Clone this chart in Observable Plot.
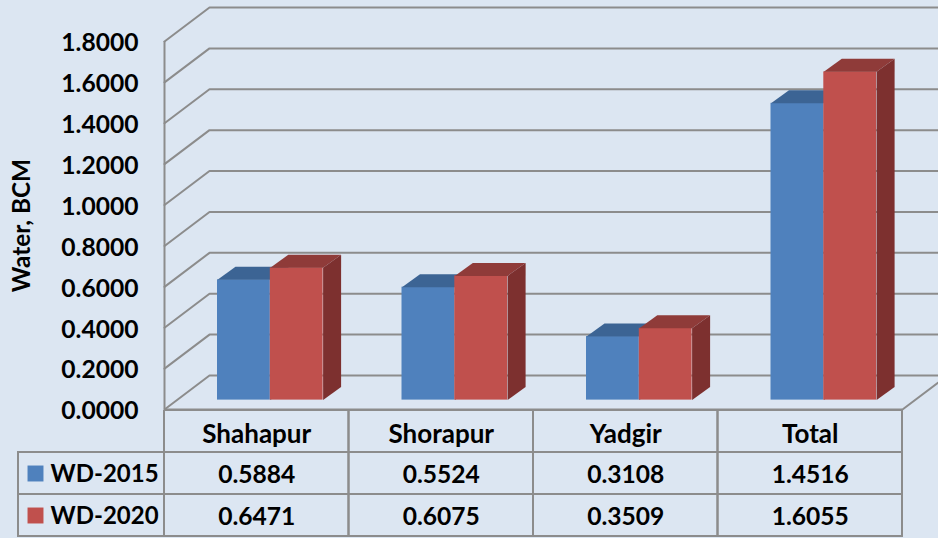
<!DOCTYPE html>
<html>
<head>
<meta charset="utf-8">
<script src="https://cdn.jsdelivr.net/npm/d3@7"></script>
<script src="https://cdn.jsdelivr.net/npm/@observablehq/plot@0.6"></script>
<style>
html,body{margin:0;padding:0;background:#DCE6F2;overflow:hidden}
#chart{position:relative;width:938px;height:538px}
svg{display:block}
#chart svg:last-child{position:absolute;left:0;top:410px}
</style>
</head>
<body>
<div id="chart"></div>
<script>
const categories = ["Shahapur", "Shorapur", "Yadgir", "Total"];
const wd2015 = [0.5884, 0.5524, 0.3108, 1.4516];
const wd2020 = [0.6471, 0.6075, 0.3509, 1.6055];
const seriesNames = ["WD-2015", "WD-2020"];
const yTicks = [0, 0.2, 0.4, 0.6, 0.8, 1.0, 1.2, 1.4, 1.6, 1.8];

// Oblique projection constants, in scale units (category widths / BCM)
const unitX = 738 / 4, unitY = 368 / 1.8;
const wallDX = 45 / unitX, wallDY = 34 / unitY;
const barDX = 18 / unitX, barDY = 13 / unitY;
const barLeft = 53 / unitX, barW = 52.8 / unitX, barBase = 9.4 / unitY;
const rightEdge = 4 + wallDX;

const series = [
  {name: seriesNames[0], values: wd2015, front: "#4F81BD", top: "#3C6494", side: "#2F4F76", off: 0},
  {name: seriesNames[1], values: wd2020, front: "#C0504D", top: "#8F3B39", side: "#7D302F", off: 1}
];

const bars = [], faces = [];
series.forEach(s => s.values.forEach((v, i) => {
  const x1 = i + barLeft + s.off * barW, x2 = x1 + barW;
  const y1 = barBase, y2 = barBase + v;
  bars.push({x1, x2, y1, y2, fill: s.front, order: s.off});
  const id = s.name + i;
  [[x1, y2], [x2, y2], [x2 + barDX, y2 + barDY], [x1 + barDX, y2 + barDY]]
    .forEach(([x, y]) => faces.push({id: id + "t", x, y, fill: s.top, off: s.off}));
  [[x2, y1], [x2 + barDX, y1 + barDY], [x2 + barDX, y2 + barDY], [x2, y2]]
    .forEach(([x, y]) => faces.push({id: id + "s", x, y, fill: s.side, off: s.off}));
}));

const gridPaths = yTicks.flatMap(t => [
  {id: t, x: 0, y: t},
  {id: t, x: wallDX, y: t + wallDY},
  {id: t, x: rightEdge, y: t + wallDY}
]);

const font = "Lato, Carlito, Calibri, sans-serif";
const gridColor = "#8C8C8C";
const text = {fontFamily: font, fontWeight: 700, fill: "#000"};

const layer = off => [
  Plot.rect(bars.filter(b => b.order === off), {x1: "x1", x2: "x2", y1: "y1", y2: "y2", fill: "fill"}),
  Plot.line(faces.filter(f => f.off === off), {x: "x", y: "y", z: "id", fill: "fill", stroke: null})
];

const chart = Plot.plot({
  width: 938, height: 430,
  marginLeft: 164, marginRight: 36, marginTop: 41, marginBottom: 21,
  style: {background: "transparent", fontFamily: font},
  x: {domain: [0, 4], axis: null},
  y: {domain: [0, 1.8], axis: null},
  marks: [
    Plot.line(gridPaths, {x: "x", y: "y", z: "id", stroke: gridColor, strokeWidth: 2}),
    Plot.ruleX([0], {y1: 0, y2: 1.8, stroke: gridColor, strokeWidth: 2}),
    Plot.ruleY([0], {x1: 0, x2: 4, stroke: gridColor, strokeWidth: 2}),
    Plot.line([{x: 4, y: 0}, {x: rightEdge, y: wallDY}], {x: "x", y: "y", stroke: gridColor, strokeWidth: 2}),
    ...layer(0),
    ...layer(1),
    Plot.axisY(yTicks, {
      anchor: "left", tickSize: 0, tickPadding: 26, label: null, dy: 2,
      tickFormat: d3.format(".4f"), fontSize: 24.6, ...text
    }),
    Plot.text(["Water, BCM"], {
      frameAnchor: "left", textAnchor: "middle", rotate: -90, dx: -142,
      fontSize: 24.4, ...text
    })
  ]
});

// Data table under the chart, sharing the category scale
const rows = ["header", ...seriesNames];
const legendL = -146 / unitX, swatchX = -129 / unitX, labelX = -114 / unitX;
const cells = [];
categories.forEach((c, i) => rows.forEach(r => cells.push({x1: i, x2: i + 1, r})));
seriesNames.forEach(r => cells.push({x1: legendL, x2: 0, r}));

const headerText = categories.map((c, i) => ({x: i + 0.5, r: "header", t: c}));
const valueText = [
  ...wd2015.map((v, i) => ({x: i + 0.5, r: seriesNames[0], t: v.toFixed(4)})),
  ...wd2020.map((v, i) => ({x: i + 0.5, r: seriesNames[1], t: v.toFixed(4)}))
];

const table = Plot.plot({
  width: 938, height: 128,
  marginLeft: 164, marginRight: 36, marginTop: 0, marginBottom: 0,
  style: {background: "transparent", fontFamily: font},
  x: {domain: [0, 4], axis: null},
  y: {domain: rows, range: [-1, 127.5], padding: 0, axis: null},
  marks: [
    Plot.barX(cells, {x1: "x1", x2: "x2", y: "r", fill: "none", stroke: gridColor, strokeWidth: 2}),
    Plot.text(headerText, {x: "x", y: "r", text: "t", dy: 3, fontSize: 26, ...text}),
    Plot.text(valueText, {x: "x", y: "r", text: "t", dy: 1.5, fontSize: 24.6, ...text}),
    Plot.dot(series, {x: swatchX, y: "name", symbol: "square", r: 9, fill: "front", stroke: null}),
    Plot.text(seriesNames, {x: labelX, y: d => d, text: d => d, textAnchor: "start", dy: 1, fontSize: 24, ...text})
  ]
});

const root = document.getElementById("chart");
root.append(chart, table);
</script>
</body>
</html>
